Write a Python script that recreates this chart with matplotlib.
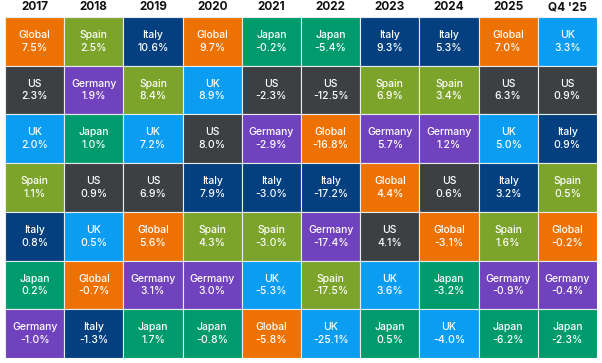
import matplotlib.pyplot as plt
from matplotlib.patches import Rectangle

years = ["2017", "2018", "2019", "2020", "2021", "2022", "2023", "2024", "2025", "Q4 '25"]

# ranked top to bottom for each column
countries = [
    ["Global", "US", "UK", "Spain", "Italy", "Japan", "Germany"],
    ["Spain", "Germany", "Japan", "US", "UK", "Global", "Italy"],
    ["Italy", "Spain", "UK", "US", "Global", "Germany", "Japan"],
    ["Global", "UK", "US", "Italy", "Spain", "Germany", "Japan"],
    ["Japan", "US", "Germany", "Italy", "Spain", "UK", "Global"],
    ["Japan", "US", "Global", "Italy", "Germany", "Spain", "UK"],
    ["Italy", "Spain", "Germany", "Global", "US", "UK", "Japan"],
    ["Italy", "Spain", "Germany", "US", "Global", "Japan", "UK"],
    ["Global", "US", "UK", "Italy", "Spain", "Germany", "Japan"],
    ["UK", "US", "Italy", "Spain", "Global", "Germany", "Japan"],
]
returns = [
    [7.5, 2.3, 2.0, 1.1, 0.8, 0.2, -1.0],
    [2.5, 1.9, 1.0, 0.9, 0.5, -0.7, -1.3],
    [10.6, 8.4, 7.2, 6.9, 5.6, 3.1, 1.7],
    [9.7, 8.9, 8.0, 7.9, 4.3, 3.0, -0.8],
    [-0.2, -2.3, -2.9, -3.0, -3.0, -5.3, -5.8],
    [-5.4, -12.5, -16.8, -17.2, -17.4, -17.5, -25.1],
    [9.3, 6.9, 5.7, 4.4, 4.1, 3.6, 0.5],
    [5.3, 3.4, 1.2, 0.6, -3.1, -3.2, -4.0],
    [7.0, 6.3, 5.0, 3.2, 1.6, -0.9, -6.2],
    [3.3, 0.9, 0.9, 0.5, -0.2, -0.4, -2.3],
]

colors = {
    "Global": "#EE7203",
    "US": "#3D4043",
    "UK": "#0A9DF2",
    "Spain": "#7CA42A",
    "Italy": "#043F80",
    "Japan": "#009B6C",
    "Germany": "#7142BE",
}

plt.rcParams['font.family'] = ['Inter', 'DejaVu Sans']

W, H = 602, 363
fig = plt.figure(figsize=(W / 100, H / 100), dpi=100)
ax = fig.add_axes([5 / W, 5 / H, 592 / W, 341 / H])
ax.set_xlim(0, len(years))
ax.set_ylim(7, 0)
ax.axis("off")

for i, yr in enumerate(years):
    ax.text(i + 0.5, -0.08, yr, ha="center", va="bottom", fontsize=8.5,
            fontweight="bold", color="#111111", clip_on=False)
    for j, (c, v) in enumerate(zip(countries[i], returns[i])):
        ax.add_patch(Rectangle((i, j), 1, 1, facecolor=colors[c],
                               edgecolor="#E8ECEF", linewidth=0.8))
        ax.text(i + 0.5, j + 0.5, f"{c}\n{v:.1f}%", ha="center", va="center",
                fontsize=7.5, color="white", fontweight="medium", linespacing=1.35)

fig.savefig("out.png", dpi=100)
